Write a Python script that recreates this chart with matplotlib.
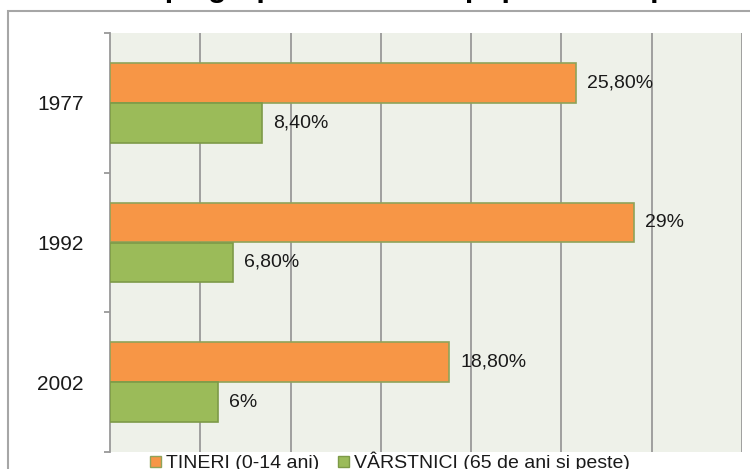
import matplotlib
matplotlib.use("Agg")
import matplotlib.pyplot as plt
from matplotlib.patches import Rectangle
import numpy as np

plt.rcParams['font.family'] = ['Liberation Sans', 'DejaVu Sans']

years = ["1977", "1992", "2002"]
tineri = [25.8, 29.0, 18.8]
varstnici = [8.4, 6.8, 6.0]
tineri_labels = ["25,80%", "29%", "18,80%"]
varstnici_labels = ["8,40%", "6,80%", "6%"]
series_names = ["TINERI (0-14 ani)", "VÂRSTNICI (65 de ani și peste)"]
title = "Structura pe grupe de vârstă a populatiei în perioada 1977-2002"

W, H = 750, 469
fig = plt.figure(figsize=(7.5, 4.69), dpi=100)
fig.patch.set_facecolor("white")

# outer chart border (cut at right and bottom)
fig.patches.append(Rectangle((8 / W, -0.2), 2.0, 1.2 - 11 / H, transform=fig.transFigure,
                             fill=False, edgecolor="#a6a6a6", linewidth=1.5, zorder=0))

ax = fig.add_axes([110 / W, 1 - 452 / H, (742 - 110) / W, (452 - 33) / H])
ax.set_facecolor("#eef1e9")

y = np.arange(len(years))
h = 40 / 140
ax.barh(y - h / 2, tineri, height=h, color="#f79646", edgecolor="#8fa35a", linewidth=1.2, zorder=3)
ax.barh(y + h / 2, varstnici, height=h, color="#9bbb59", edgecolor="#7d9a47", linewidth=1.2, zorder=3)

ax.set_xlim(0, 35)
ax.set_ylim(2.5, -0.5)
ax.set_xticks(np.arange(5, 36, 5))
ax.xaxis.grid(True, color="#999999", linewidth=1.3, zorder=1)
ax.tick_params(axis="x", length=0, labelbottom=False)
ax.set_axisbelow(True)

ax.set_yticks(y)
ax.set_yticklabels(years, fontsize=15, color="#1a1a1a")
ax.tick_params(axis="y", which="major", length=0, pad=19)
ax.set_yticks([-0.5, 0.5, 1.5, 2.5], minor=True)
ax.tick_params(axis="y", which="minor", length=4, color="#999999", width=1.3)

for s in ["top", "right", "bottom"]:
    ax.spines[s].set_visible(False)
ax.spines["left"].set_color("#999999")
ax.spines["left"].set_linewidth(1.3)

px = 35 / (742 - 110)
for i in range(len(years)):
    ax.text(tineri[i] + 11 * px, y[i] - h / 2, tineri_labels[i], va="center", ha="left",
            fontsize=14, color="#1a1a1a", zorder=4)
    ax.text(varstnici[i] + 11 * px, y[i] + h / 2, varstnici_labels[i], va="center", ha="left",
            fontsize=14, color="#1a1a1a", zorder=4)

handles = [Rectangle((0, 0), 1, 1, facecolor="#f79646", edgecolor="#8fa35a", linewidth=1.0),
           Rectangle((0, 0), 1, 1, facecolor="#9bbb59", edgecolor="#7d9a47", linewidth=1.0)]
fig.legend(handles, series_names, loc="center", bbox_to_anchor=(390 / W, 1 - 462 / H),
           ncol=2, frameon=False, fontsize=14, handlelength=0.55, handleheight=0.55,
           handletextpad=0.25, columnspacing=1.0, borderpad=0, labelcolor="#1a1a1a")

fig.text(23 / W, 1 + 3 / H, title, ha="left", va="baseline", fontsize=21.6,
         fontweight="bold", color="black")

fig.savefig("out.png", dpi=100)
